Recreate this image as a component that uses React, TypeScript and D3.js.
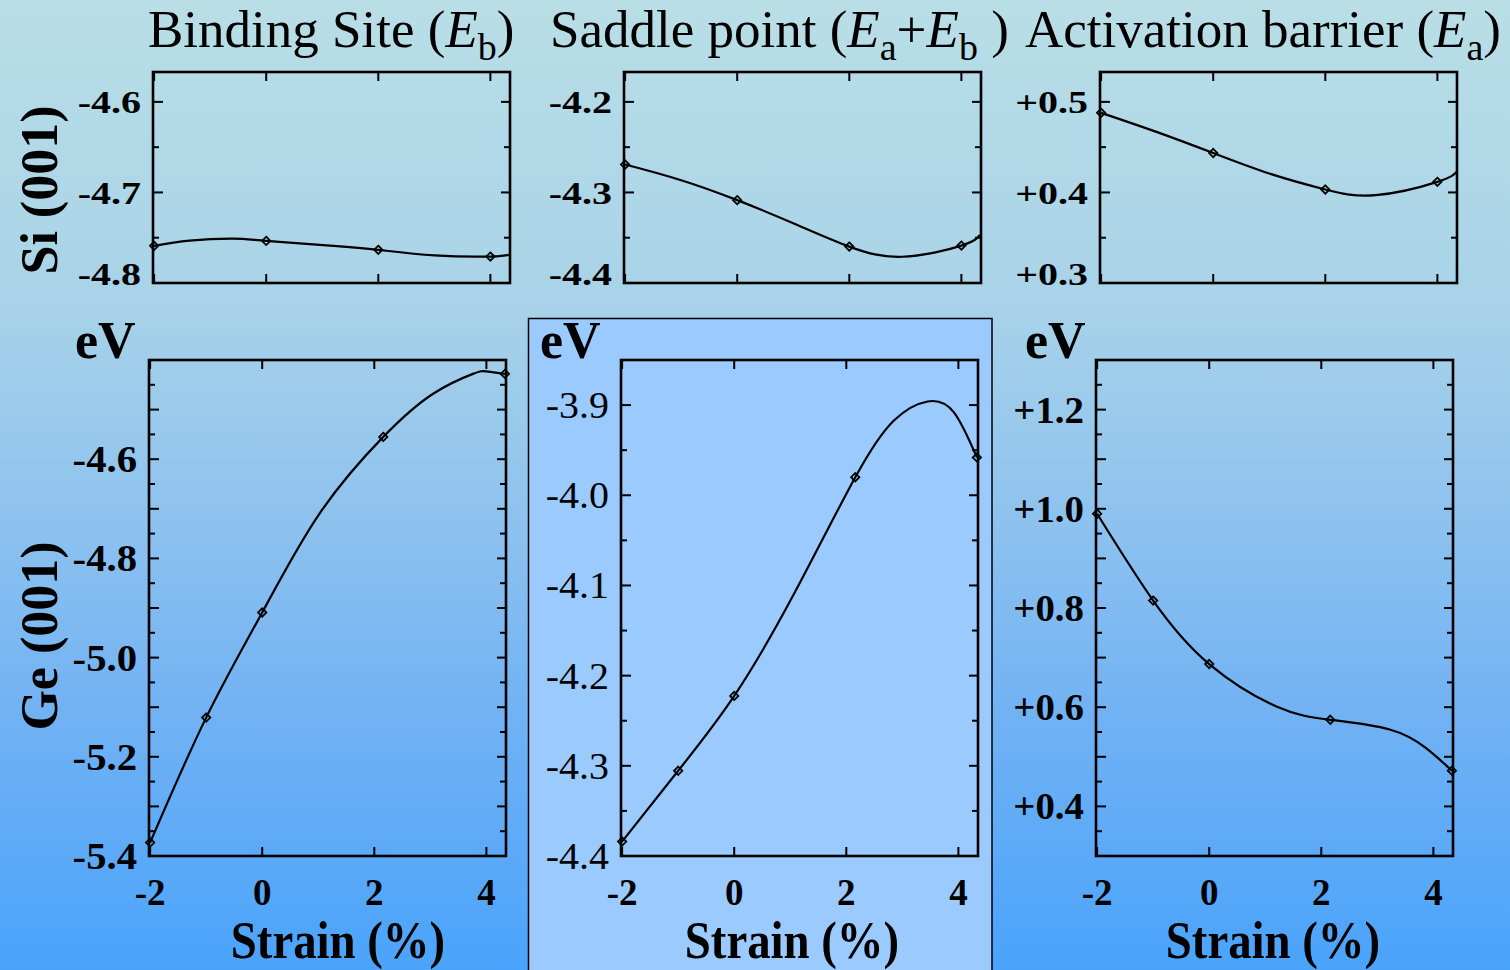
import * as d3 from "d3";

const W = 1510;
const H = 970;
const FONT = "'Liberation Serif', 'Times New Roman', serif";

// strain (%) axis
const strainDomain = [-2.02, 4.35];
const strainTicks = [-2, 0, 2, 4];
const siStrain = [-2, 0, 2, 4];
const geStrain = [-2, -1, 0, 2.16, 4.33];

// Si(001) energies (eV) at the computed strains
const siBinding = [-4.759, -4.7535, -4.7634, -4.7708];
const siSaddle = [-4.2692, -4.3085, -4.3598, -4.3587];
const siBarrier = [0.4879, 0.4435, 0.4033, 0.4117];

// Ge(001) energies (eV)
const geBinding = [-5.373, -5.121, -4.909, -4.555, -4.428];
const geSaddle = [-4.384, -4.3055, -4.2225, -3.98, -3.958];
const geBarrier = [0.99, 0.815, 0.687, 0.5746, 0.472];

// fitted curves
const siBindingCurveX = [-2, -1.37, -0.6, 0, 1.2, 2, 3, 4, 4.33];
const siBindingCurveY = [-4.759, -4.7532, -4.751, -4.7535, -4.759, -4.7634, -4.7695, -4.7708, -4.769];
const siSaddleCurveX = [-2, -1, 0, 1, 2, 2.95, 4, 4.33];
const siSaddleCurveY = [-4.2692, -4.2865, -4.3085, -4.334, -4.3598, -4.371, -4.3587, -4.347];
const siBarrierCurveX = [-2, -1, 0, 1, 2, 2.9, 4, 4.34];
const siBarrierCurveY = [0.4879, 0.4666, 0.4435, 0.4209, 0.4033, 0.397, 0.4117, 0.4226];
const geBindingCurveX = [-2, -1, 0, 1.02, 2.16, 3.05, 3.76, 4.0, 4.33];
const geBindingCurveY = [-5.373, -5.121, -4.909, -4.71, -4.555, -4.468, -4.428, -4.423, -4.428];
const geSaddleCurveX = [-2, -1, 0, 1.07, 2.16, 2.85, 3.45, 3.92, 4.33];
const geSaddleCurveY = [-4.384, -4.3055, -4.2225, -4.109, -3.98, -3.917, -3.896, -3.908, -3.958];
const geBarrierCurveX = [-2, -1, 0, 1.21, 2.16, 3.22, 3.87, 4.33];
const geBarrierCurveY = [0.99, 0.815, 0.687, 0.601, 0.5746, 0.555, 0.5175, 0.472];

// y axes
const siBindingTicks = [-4.8, -4.7, -4.6];
const siSaddleTicks = [-4.4, -4.3, -4.2];
const siBarrierTicks = [0.3, 0.4, 0.5];
const geBindingTicks = [-5.4, -5.2, -5.0, -4.8, -4.6];
const geSaddleTicks = [-4.4, -4.3, -4.2, -4.1, -4.0, -3.9];
const geBarrierTicks = [0.4, 0.6, 0.8, 1.0, 1.2];

const titles = ["Binding Site", "Saddle point", "Activation barrier"];

const fmt = (v) => (v > 0 ? "+" : "") + v.toFixed(1);

function Panel({ left, top, width, height, yDomain, labels, mx, my, cx, cy, top_row, lf, ls, lw, lift }) {
  const x = d3.scaleLinear().domain(strainDomain).range([left, left + width]);
  const y = d3.scaleLinear().domain(yDomain).range([top + height, top]);
  const pts = cx.map((v, i) => [v, cy[i]]);
  const line = d3
    .line()
    .x((d) => x(d[0]))
    .y((d) => y(d[1]))
    .curve(d3.curveNatural);
  const k0 = Math.ceil(yDomain[0] / 0.05 - 1e-6);
  const k1 = Math.floor(yDomain[1] / 0.05 + 1e-6);
  const yt = d3.range(k0, k1 + 1).map((k) => ({ v: k * 0.05, major: k % 2 === 0 }));
  const diamond = d3.symbol(d3.symbolDiamond2, 44)();
  const right = left + width;
  const bottom = top + height;
  return (
    <g>
      {strainTicks.map((t) => (
        <g key={"xt" + t}>
          <line x1={x(t)} x2={x(t)} y1={bottom} y2={bottom - 9} stroke="#000" strokeWidth={2} />
          <line x1={x(t)} x2={x(t)} y1={top} y2={top + 9} stroke="#000" strokeWidth={2} />
        </g>
      ))}
      {yt.map((t, i) => (
        <g key={"yt" + i}>
          <line x1={left} x2={left + (t.major ? 10 : 6)} y1={y(t.v)} y2={y(t.v)} stroke="#000" strokeWidth={2} />
          <line x1={right} x2={right - (t.major ? 9 : 6)} y1={y(t.v)} y2={y(t.v)} stroke="#000" strokeWidth={2} />
        </g>
      ))}
      <rect x={left} y={top} width={width} height={height} fill="none" stroke="#000" strokeWidth={2.6} />
      <path d={line(pts)} fill="none" stroke="#000" strokeWidth={2.2} />
      {mx.map((v, i) => (
        <path key={"m" + i} d={diamond} transform={`translate(${x(v)},${y(my[i])})`} fill="none" stroke="#000" strokeWidth={1.8} />
      ))}
      {labels.map((v, i) => (
        <text
          key={"yl" + i}
          transform={`translate(${left - 12},${y(v) + lf * 0.35 - (lift && v === yDomain[0] ? 9 : 0)}) scale(${ls},1)`}
          textAnchor="end"
          fontFamily={FONT}
          fontSize={lf}
          fontWeight={lw}
          fill="#000"
        >
          {fmt(v)}
        </text>
      ))}
      {!top_row &&
        strainTicks.map((t) => (
          <text key={"xl" + t} x={x(t)} y={905} textAnchor="middle" fontFamily={FONT} fontSize={37} fontWeight="bold" fill="#000">
            {t}
          </text>
        ))}
    </g>
  );
}

export default function App() {
  const topRow = { top: 72, height: 211, width: 357 };
  const botRow = { top: 360, height: 496, width: 357 };
  const sub = { fontSize: 38 };
  return (
    <svg width={W} height={H} style={{ position: "absolute", left: 0, top: 0 }}>
      <defs>
        <linearGradient id="bg" x1="0" y1="0" x2="0" y2="1">
          <stop offset="0" stopColor="#b9dee6" />
          <stop offset="0.3" stopColor="#a9d3e8" />
          <stop offset="0.55" stopColor="#8cc1ef" />
          <stop offset="0.75" stopColor="#6fb1f4" />
          <stop offset="1" stopColor="#4aa3fb" />
        </linearGradient>
      </defs>
      <rect x={0} y={0} width={W} height={H} fill="url(#bg)" />
      <rect x={528.5} y={318.5} width={463.5} height={700} fill="#9bcbfe" stroke="#000" strokeWidth={1.5} />

      {/* column titles */}
      <text x={148} y={47} fontFamily={FONT} fontSize={53} fill="#000">
        {titles[0]} (<tspan fontStyle="italic">E</tspan>
        <tspan dy={13} {...sub}>b</tspan>
        <tspan dy={-13}>)</tspan>
      </text>
      <text x={550} y={47} fontFamily={FONT} fontSize={53} fill="#000">
        {titles[1]} (<tspan fontStyle="italic">E</tspan>
        <tspan dy={13} {...sub}>a</tspan>
        <tspan dy={-13}>+</tspan>
        <tspan fontStyle="italic">E</tspan>
        <tspan dy={13} {...sub}>b</tspan>
        <tspan dy={-13}>{" )"}</tspan>
      </text>
      <text x={1025} y={47} fontFamily={FONT} fontSize={53} fill="#000">
        {titles[2]} (<tspan fontStyle="italic">E</tspan>
        <tspan dy={13} {...sub}>a</tspan>
        <tspan dy={-13}>)</tspan>
      </text>

      {/* row labels */}
      <text transform="translate(57,190) rotate(-90)" textAnchor="middle" fontFamily={FONT} fontSize={52} fontWeight="bold" fill="#000">
        Si (001)
      </text>
      <text transform="translate(57,636) rotate(-90)" textAnchor="middle" fontFamily={FONT} fontSize={52} fontWeight="bold" fill="#000">
        Ge (001)
      </text>

      {/* eV units */}
      {[75, 540, 1025].map((ex, i) => (
        <text key={"ev" + i} x={ex} y={358} fontFamily={FONT} fontSize={52} fontWeight="bold" fill="#000">
          eV
        </text>
      ))}

      <Panel left={153} {...topRow} yDomain={[-4.8, -4.567]} labels={siBindingTicks} mx={siStrain} my={siBinding} cx={siBindingCurveX} cy={siBindingCurveY} top_row lf={32} ls={1.25} lw="bold" lift />
      <Panel left={624} {...topRow} yDomain={[-4.4, -4.167]} labels={siSaddleTicks} mx={siStrain} my={siSaddle} cx={siSaddleCurveX} cy={siSaddleCurveY} top_row lf={32} ls={1.25} lw="bold" lift />
      <Panel left={1100} {...topRow} yDomain={[0.3, 0.533]} labels={siBarrierTicks} mx={siStrain} my={siBarrier} cx={siBarrierCurveX} cy={siBarrierCurveY} top_row lf={32} ls={1.25} lw="bold" lift />

      <Panel left={149} {...botRow} yDomain={[-5.4, -4.4]} labels={geBindingTicks} mx={geStrain} my={geBinding} cx={geBindingCurveX} cy={geBindingCurveY} lf={37} ls={1.1} lw="bold" />
      <Panel left={621} {...botRow} yDomain={[-4.4, -3.85]} labels={geSaddleTicks} mx={geStrain} my={geSaddle} cx={geSaddleCurveX} cy={geSaddleCurveY} lf={37} ls={1.08} lw="normal" />
      <Panel left={1096} {...botRow} yDomain={[0.3, 1.3]} labels={geBarrierTicks} mx={geStrain} my={geBarrier} cx={geBarrierCurveX} cy={geBarrierCurveY} lf={37} ls={1.05} lw="bold" />

      {/* x axis titles */}
      {[338, 792, 1273].map((sx, i) => (
        <text key={"st" + i} transform={`translate(${sx},958) scale(0.9,1)`} textAnchor="middle" fontFamily={FONT} fontSize={52} fontWeight="bold" fill="#000">
          Strain (%)
        </text>
      ))}
    </svg>
  );
}
